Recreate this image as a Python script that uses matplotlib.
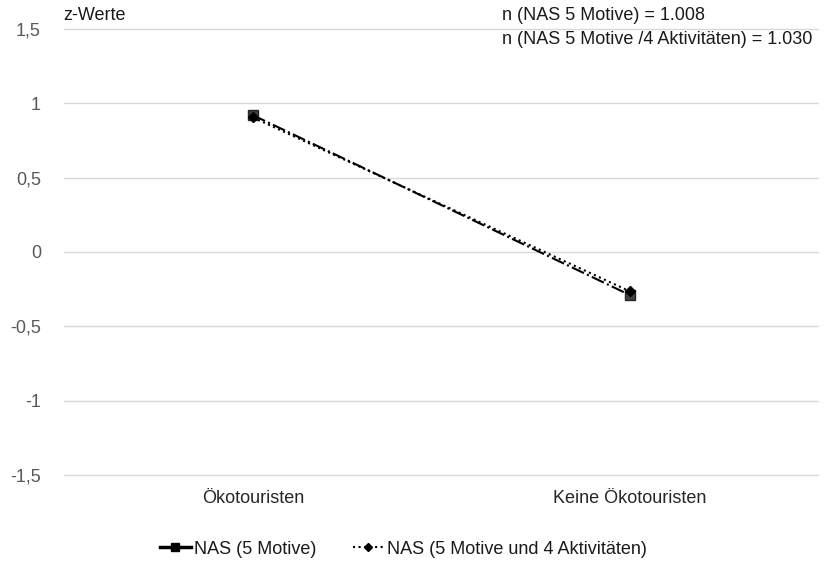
import matplotlib
matplotlib.use("Agg")
import matplotlib.pyplot as plt
from matplotlib.lines import Line2D

plt.rcParams['font.family'] = ['Liberation Sans', 'DejaVu Sans']

categories = ["Ökotouristen", "Keine Ökotouristen"]
nas5 = [0.92, -0.29]
nas5_4 = [0.905, -0.265]
yticks = [-1.5, -1, -0.5, 0, 0.5, 1, 1.5]
ytick_labels = ["-1,5", "-1", "-0,5", "0", "0,5", "1", "1,5"]

fig = plt.figure(figsize=(8.28, 5.65), dpi=100)
top_px, bot_px = 29, 475
ax = fig.add_axes([64.5/828, 1 - bot_px/565, 754/828, (bot_px - top_px)/565])
x = list(range(len(categories)))

ax.plot(x, nas5, color='black', linestyle='-.', linewidth=1.5, marker='s',
        markersize=7, markerfacecolor='#404040', markeredgecolor='#262626', zorder=3,
        clip_on=False)
ax.plot(x, nas5_4, color='black', linestyle=':', linewidth=1.5, marker='D',
        markersize=5.5, markerfacecolor='black', markeredgecolor='black', zorder=4,
        clip_on=False)

ax.set_xlim(-0.5, 1.5)
ax.set_ylim(-1.5, 1.5)
ax.set_yticks(yticks)
ax.set_yticklabels(ytick_labels)
ax.set_xticks(x)
ax.set_xticklabels(categories)
ax.tick_params(axis='both', length=0, labelsize=13, colors='#595959')
ax.tick_params(axis='x', pad=11)
ax.tick_params(axis='y', pad=17)
for lbl in ax.get_xticklabels():
    lbl.set_color('#262626')
for s in ax.spines.values():
    s.set_visible(False)
ax.grid(axis='y', color='#d9d9d9', linewidth=1, clip_on=False)
ax.set_axisbelow(True)

fig.text(63/828, 1 - 16/565, "z-Werte", fontsize=13, color='#1a1a1a', va='center', ha='left')
fig.text(502/828, 1 - 15/565, "n (NAS 5 Motive) = 1.008", fontsize=13, color='#1a1a1a', va='center', ha='left')
fig.text(502/828, 1 - 39/565, "n (NAS 5 Motive /4 Aktivitäten) = 1.030", fontsize=13, color='#1a1a1a', va='center', ha='left')

handles = [
    Line2D([], [], color='black', linestyle='-', linewidth=2.5, marker='s', markersize=6,
           markerfacecolor='black'),
    Line2D([], [], color='black', linestyle=':', linewidth=1.5, marker='D', markersize=4.5,
           markerfacecolor='black'),
]
fig.legend(handles, ["NAS (5 Motive)", "NAS (5 Motive und 4 Aktivitäten)"],
           loc='center left', bbox_to_anchor=(160/828, 1 - 549/565), ncol=2, frameon=False,
           fontsize=13, handlelength=1.7, handletextpad=0.2, columnspacing=2.0,
           borderaxespad=0, borderpad=0, labelcolor='#1a1a1a')

fig.savefig("out.png", dpi=100)
